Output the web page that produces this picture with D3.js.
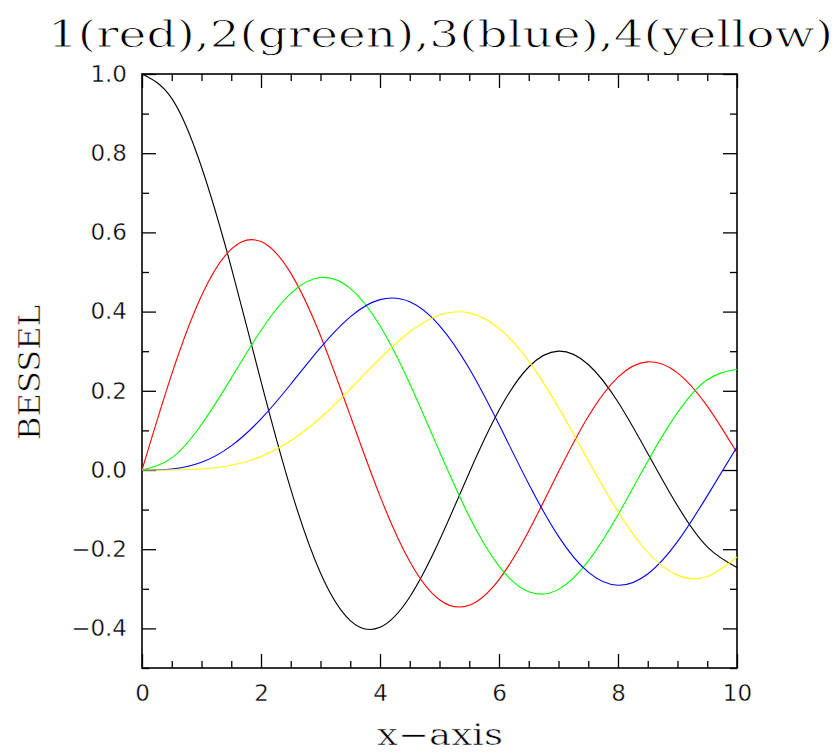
<!DOCTYPE html>
<html><head><meta charset="utf-8">
<script src="https://cdn.jsdelivr.net/npm/d3@7"></script>
<style>body{margin:0;background:#fff}</style>
</head><body><svg id="c" width="838" height="753"></svg>
<script>
const xs = [0,0.5,1,1.5,2,2.5,3,3.5,4,4.5,5,5.5,6,6.5,7,7.5,8,8.5,9,9.5,10];
const j0 = [1,0.93847,0.76520,0.51183,0.22389,-0.04838,-0.26005,-0.38013,-0.39715,-0.32054,-0.17760,-0.00684,0.15065,0.26009,0.30008,0.26634,0.17165,0.04194,-0.09033,-0.19393,-0.24594];
const j1 = [0,0.24227,0.44005,0.55794,0.57672,0.49709,0.33906,0.13738,-0.06604,-0.23106,-0.32758,-0.34144,-0.27668,-0.15384,-0.00468,0.13525,0.23464,0.27312,0.24531,0.16126,0.04347];
const j2 = [0,0.03060,0.11490,0.23209,0.35283,0.44606,0.48609,0.45863,0.36413,0.21785,0.04657,-0.11732,-0.24287,-0.30743,-0.30142,-0.23027,-0.11299,0.02232,0.14485,0.22788,0.25463];
const j3 = [0,0.00256,0.01956,0.06096,0.12894,0.21660,0.30906,0.38677,0.43017,0.42470,0.36483,0.25612,0.11477,-0.03535,-0.16756,-0.25806,-0.29113,-0.26262,-0.18093,-0.06531,0.05838];
const j4 = [0,0.00016,0.00248,0.01178,0.03400,0.07379,0.13203,0.20440,0.28113,0.34842,0.39123,0.39672,0.35764,0.27480,0.15780,0.02382,-0.10536,-0.20770,-0.26546,-0.26913,-0.21960];
const seriesNames = ["J0","J1","J2","J3","J4"];
const seriesColors = ["#000000","#ff0000","#00ff00","#0000ff","#ffff00"];
const xMajor = [0,2,4,6,8,10];
const xMinor = [0.5,1,1.5,2.5,3,3.5,4.5,5,5.5,6.5,7,7.5,8.5,9,9.5];
const yMajor = [-0.4,-0.2,0,0.2,0.4,0.6,0.8,1.0];
const yMinor = [-0.5,-0.3,-0.1,0.1,0.3,0.5,0.7,0.9];
const titleText = "1(red),2(green),3(blue),4(yellow)";
const xLabel = "x\u2212axis";
const yLabel = "BESSEL";

const svg = d3.select("#c");
const L=142,R=737,T=74,B=668;
const x = d3.scaleLinear().domain([0,10]).range([L,R]);
const y = d3.scaleLinear().domain([-0.5,1.0]).range([B,T]);

const fmtY = d => (d<0?"\u2212":"") + Math.abs(d).toFixed(1);
const tickFont = "'DejaVu Sans', sans-serif";

function styleAxis(g){
  g.select(".domain").remove();
  g.selectAll("line").attr("stroke","#000").attr("stroke-width",1.3);
  g.selectAll("text").attr("font-family",tickFont).attr("font-size",23).attr("fill","#000")
    .attr("stroke","#fff").attr("stroke-width",0.4);
}
// bottom
svg.append("g").attr("transform",`translate(0,${B})`).call(d3.axisBottom(x).tickValues(xMajor).tickSize(-14).tickPadding(17).tickFormat(d3.format("d"))).call(styleAxis);
svg.append("g").attr("transform",`translate(0,${B})`).call(d3.axisBottom(x).tickValues(xMinor).tickSize(-7).tickFormat("")).call(styleAxis);
// top
svg.append("g").attr("transform",`translate(0,${T})`).call(d3.axisTop(x).tickValues(xMajor).tickSize(-14).tickFormat("")).call(styleAxis);
svg.append("g").attr("transform",`translate(0,${T})`).call(d3.axisTop(x).tickValues(xMinor).tickSize(-7).tickFormat("")).call(styleAxis);
// left
svg.append("g").attr("transform",`translate(${L},0)`).call(d3.axisLeft(y).tickValues(yMajor).tickSize(-14).tickPadding(15).tickFormat(fmtY)).call(styleAxis);
svg.append("g").attr("transform",`translate(${L},0)`).call(d3.axisLeft(y).tickValues(yMinor).tickSize(-7).tickFormat("")).call(styleAxis);
// right
svg.append("g").attr("transform",`translate(${R},0)`).call(d3.axisRight(y).tickValues(yMajor).tickSize(-14).tickFormat("")).call(styleAxis);
svg.append("g").attr("transform",`translate(${R},0)`).call(d3.axisRight(y).tickValues(yMinor).tickSize(-7).tickFormat("")).call(styleAxis);

// frame
svg.append("rect").attr("x",L).attr("y",T).attr("width",R-L).attr("height",B-T)
  .attr("fill","none").attr("stroke","#000").attr("stroke-width",1.6);

const series = [j0,j1,j2,j3,j4];
const line = d3.line().x((d,i)=>x(xs[i])).y(d=>y(d)).curve(d3.curveNatural);
svg.append("g").selectAll("path").data(series).join("path")
  .attr("d",line).attr("fill","none")
  .attr("stroke",(d,i)=>seriesColors[i]).attr("stroke-width",1.1);

const serif = "'DejaVu Serif','Liberation Serif',serif";
function thin(w){ return t => t.attr("fill","#000").attr("stroke","#fff").attr("stroke-width",w); }
svg.append("text").attr("x",48).attr("y",47)
  .attr("font-family",serif).attr("font-size",37)
  .attr("textLength",785).attr("lengthAdjust","spacingAndGlyphs").text(titleText).call(thin(0.9));
svg.append("text").attr("x",377).attr("y",745)
  .attr("font-family",serif).attr("font-size",30)
  .attr("textLength",126).attr("lengthAdjust","spacingAndGlyphs").text(xLabel).call(thin(0.6));
svg.append("text").attr("transform","translate(40,440) rotate(-90)")
  .attr("font-family",serif).attr("font-size",30)
  .attr("textLength",135).attr("lengthAdjust","spacingAndGlyphs").text(yLabel).call(thin(0.6));
</script></body></html>
